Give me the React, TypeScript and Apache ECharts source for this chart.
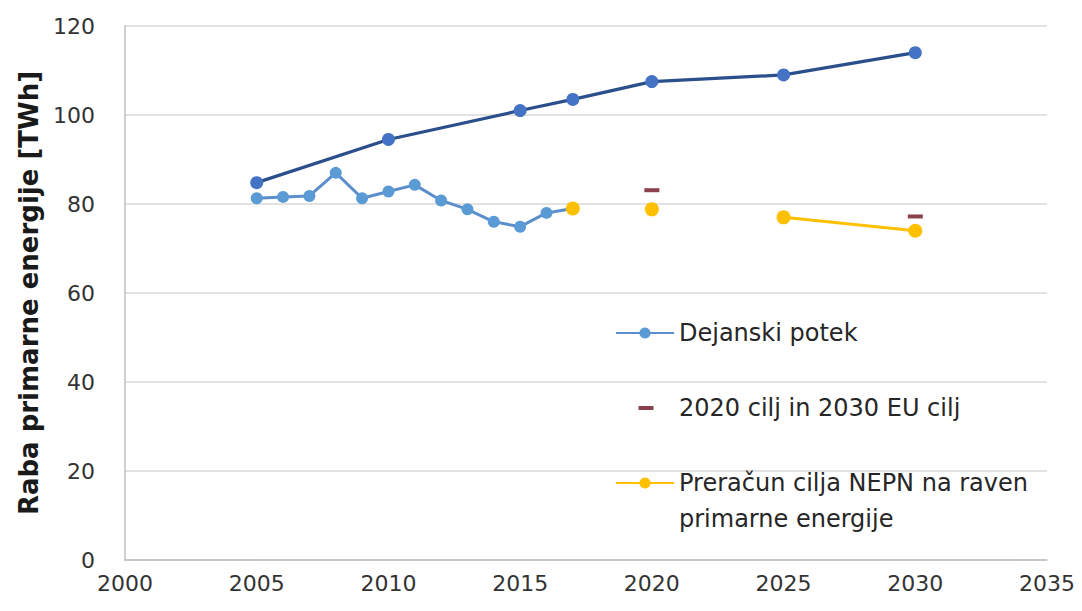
import React, { useEffect, useRef } from "react";
import * as echarts from "echarts";

const yTicks = [0, 20, 40, 60, 80, 100, 120];
const xTicks = [2000, 2005, 2010, 2015, 2020, 2025, 2030, 2035];

const projYears = [2005, 2010, 2015, 2017, 2020, 2025, 2030];
const projValues = [84.8, 94.5, 101.0, 103.5, 107.5, 109.0, 114.0];

const actualYears = [2005, 2006, 2007, 2008, 2009, 2010, 2011, 2012, 2013, 2014, 2015, 2016, 2017];
const actualValues = [81.3, 81.6, 81.8, 87.0, 81.3, 82.8, 84.3, 80.8, 78.8, 76.0, 74.9, 78.0, 79.0];

const targetYears = [2020, 2030];
const targetValues = [83.1, 77.2];

// null = gap in the line
const nepnYears = [2017, 2018, 2020, 2021, 2025, 2030];
const nepnValues: (number | null)[] = [79.0, null, 78.8, null, 77.0, 74.0];

const nameActual = "Dejanski potek";
const nameTarget = "2020 cilj in 2030 EU cilj";
const nameNepn = "Preračun cilja NEPN na raven";
const nameNepn2 = "primarne energije";
const yAxisName = "Raba primarne energije [TWh]";

const FONT = "DejaVu Sans";

export default function App() {
  const ref = useRef<HTMLDivElement>(null);
  useEffect(() => {
    if (!ref.current) return;
    const chart = echarts.init(ref.current, undefined, { renderer: "svg" });
    const pair = (xs: number[], ys: (number | null)[]) =>
      xs.map((x, i) => (ys[i] === null ? [x, "-"] : [x, ys[i]]));
    chart.setOption({
      animation: false,
      backgroundColor: "#ffffff",
      grid: { left: 125, right: 35, top: 26, bottom: 51, containLabel: false },
      xAxis: {
        type: "value",
        min: xTicks[0],
        max: xTicks[xTicks.length - 1],
        interval: 5,
        axisLine: { show: true, lineStyle: { color: "#bfbfbf", width: 1.5 } },
        axisTick: { show: false },
        splitLine: { show: false },
        axisLabel: {
          margin: 12,
          color: "#333333",
          fontFamily: FONT,
          fontSize: 22,
          formatter: (v: number) => String(v),
        },
      },
      yAxis: {
        type: "value",
        min: yTicks[0],
        max: yTicks[yTicks.length - 1],
        interval: 20,
        name: yAxisName,
        nameLocation: "middle",
        nameGap: 82,
        nameTextStyle: { fontFamily: FONT, fontSize: 26, fontWeight: "bold", color: "#1a1a1a" },
        axisLine: { show: true, lineStyle: { color: "#bfbfbf", width: 1.5 } },
        axisTick: { show: false },
        splitLine: { show: true, lineStyle: { color: "#d9d9d9", width: 1.5 } },
        axisLabel: {
          margin: 30,
          color: "#333333",
          fontFamily: FONT,
          fontSize: 22,
          formatter: (v: number) => String(v),
        },
      },
      legend: {
        orient: "vertical",
        left: 615,
        top: 319,
        padding: 0,
        itemWidth: 58,
        itemHeight: 14,
        itemGap: 47,
        textStyle: { fontFamily: FONT, fontSize: 24, color: "#262626", lineHeight: 28 },
        data: [
          { name: nameActual },
          {
            name: nameTarget,
            icon: "path://M0,0h0.01v0.01h-0.01z M22.5,5h15v4h-15z M57.99,13.99h0.01v0.01h-0.01z",
          },
          { name: nameNepn },
        ],
      },
      graphic: [
        {
          type: "text",
          left: 679,
          top: 507,
          style: { text: nameNepn2, fontFamily: FONT, fontSize: 24, fill: "#262626" },
        },
      ],
      series: [
        {
          name: "Projekcija",
          type: "line",
          data: pair(projYears, projValues),
          symbol: "circle",
          symbolSize: 13,
          lineStyle: { color: "#2b4f8c", width: 3.2 },
          itemStyle: { color: "#4472c4" },
          z: 2,
        },
        {
          name: nameActual,
          type: "line",
          data: pair(actualYears, actualValues),
          symbol: "circle",
          symbolSize: 12,
          lineStyle: { color: "#5b8fcb", width: 3 },
          itemStyle: { color: "#5b9bd5" },
          z: 3,
        },
        {
          name: nameNepn,
          type: "line",
          data: pair(nepnYears, nepnValues),
          connectNulls: false,
          symbol: "circle",
          symbolSize: 14,
          lineStyle: { color: "#ffc000", width: 3 },
          itemStyle: { color: "#ffc000" },
          z: 4,
        },
        {
          name: nameTarget,
          type: "scatter",
          data: pair(targetYears, targetValues),
          symbol: "rect",
          symbolSize: [15, 4],
          itemStyle: { color: "#6e1020" },
          z: 5,
        },
      ],
    });
    return () => chart.dispose();
  }, []);
  return (
    <div
      ref={ref}
      style={{ position: "absolute", left: 0, top: 0, width: 1082, height: 611 }}
    />
  );
}
